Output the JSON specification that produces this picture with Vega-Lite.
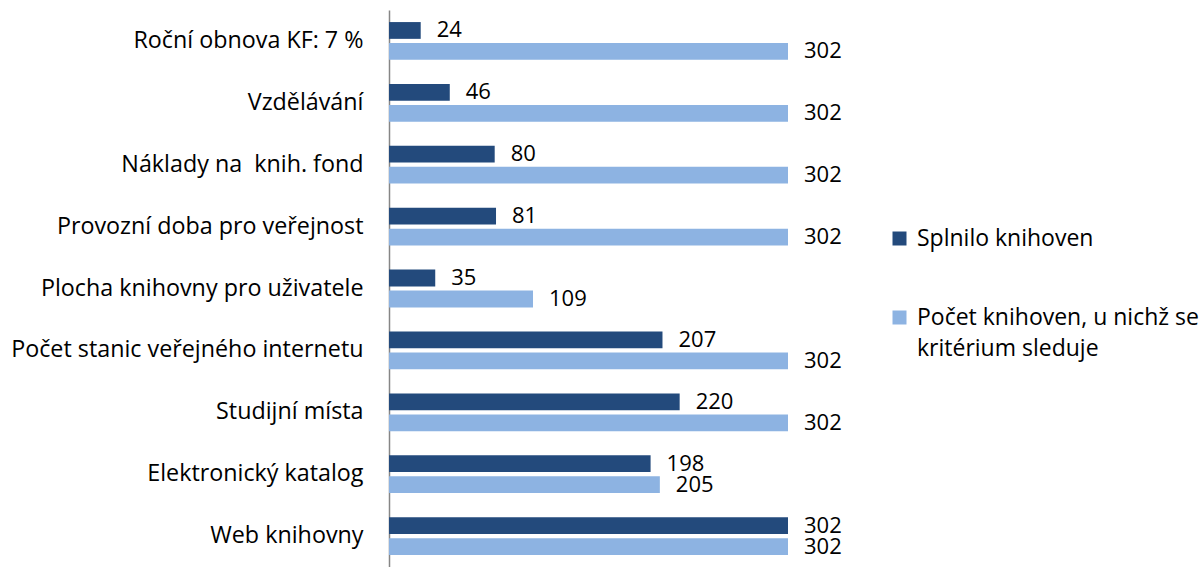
{
  "$schema": "https://vega.github.io/schema/vega-lite/v6.json",
  "width": 399,
  "height": 557,
  "autosize": {"type": "none"},
  "padding": {"left": 389, "top": 10, "right": 415, "bottom": 0},
  "background": "white",
  "config": {"view": {"stroke": null}, "font": "Open Sans", "style": {"guide-label": {"lineHeight": 31}}},
  "data": {"values": [
    {"kategorie": "Roční obnova KF: 7 %", "serie": "Splnilo knihoven", "hodnota": 24},
    {"kategorie": "Roční obnova KF: 7 %", "serie": "Počet knihoven, u nichž se kritérium sleduje", "hodnota": 302},
    {"kategorie": "Vzdělávání", "serie": "Splnilo knihoven", "hodnota": 46},
    {"kategorie": "Vzdělávání", "serie": "Počet knihoven, u nichž se kritérium sleduje", "hodnota": 302},
    {"kategorie": "Náklady na  knih. fond", "serie": "Splnilo knihoven", "hodnota": 80},
    {"kategorie": "Náklady na  knih. fond", "serie": "Počet knihoven, u nichž se kritérium sleduje", "hodnota": 302},
    {"kategorie": "Provozní doba pro veřejnost", "serie": "Splnilo knihoven", "hodnota": 81},
    {"kategorie": "Provozní doba pro veřejnost", "serie": "Počet knihoven, u nichž se kritérium sleduje", "hodnota": 302},
    {"kategorie": "Plocha knihovny pro uživatele", "serie": "Splnilo knihoven", "hodnota": 35},
    {"kategorie": "Plocha knihovny pro uživatele", "serie": "Počet knihoven, u nichž se kritérium sleduje", "hodnota": 109},
    {"kategorie": "Počet stanic veřejného internetu", "serie": "Splnilo knihoven", "hodnota": 207},
    {"kategorie": "Počet stanic veřejného internetu", "serie": "Počet knihoven, u nichž se kritérium sleduje", "hodnota": 302},
    {"kategorie": "Studijní místa", "serie": "Splnilo knihoven", "hodnota": 220},
    {"kategorie": "Studijní místa", "serie": "Počet knihoven, u nichž se kritérium sleduje", "hodnota": 302},
    {"kategorie": "Elektronický katalog", "serie": "Splnilo knihoven", "hodnota": 198},
    {"kategorie": "Elektronický katalog", "serie": "Počet knihoven, u nichž se kritérium sleduje", "hodnota": 205},
    {"kategorie": "Web knihovny", "serie": "Splnilo knihoven", "hodnota": 302},
    {"kategorie": "Web knihovny", "serie": "Počet knihoven, u nichž se kritérium sleduje", "hodnota": 302}
  ]},
  "encoding": {
    "y": {
      "field": "kategorie", "type": "nominal", "sort": null, "title": null,
      "scale": {"paddingInner": 0.39, "paddingOuter": 0.195},
      "axis": {"ticks": false, "domainColor": "#868686", "domainWidth": 1.5, "labelFontSize": 23.3, "labelColor": "#000000", "labelPadding": 26, "labelLimit": 400, "labelFont": "Open Sans",
        "labelExpr": "datum.label == 'Náklady na  knih. fond' ? 'Náklady na\u00a0 knih. fond' : datum.label"}
    },
    "yOffset": {
      "field": "serie", "type": "nominal",
      "scale": {"domain": ["Splnilo knihoven", "Počet knihoven, u nichž se kritérium sleduje"], "paddingInner": 0.2, "paddingOuter": 0}
    },
    "x": {
      "field": "hodnota", "type": "quantitative",
      "scale": {"domain": [0, 302], "nice": false, "zero": true},
      "axis": null
    }
  },
  "layer": [
    {
      "mark": {"type": "bar"},
      "encoding": {
        "color": {
          "field": "serie", "type": "nominal",
          "scale": {"domain": ["Splnilo knihoven", "Počet knihoven, u nichž se kritérium sleduje"], "range": ["#234A7C", "#8DB3E2"]},
          "legend": {
            "title": null, "orient": "none", "legendX": 499, "legendY": 217, "padding": 0,
            "symbolType": "square", "symbolSize": 196, "symbolStrokeWidth": 0,
            "labelFontSize": 23, "labelFont": "Open Sans", "labelColor": "#000000", "labelOffset": 6, "labelLimit": 400,
            "rowPadding": 55,
            "labelExpr": "datum.label == 'Počet knihoven, u nichž se kritérium sleduje' ? ['Počet knihoven, u nichž se', 'kritérium sleduje'] : datum.label"
          }
        }
      }
    },
    {
      "mark": {"type": "text", "align": "left", "baseline": "middle", "dx": 16, "fontSize": 22, "font": "Open Sans", "color": "#000000"},
      "encoding": {"text": {"field": "hodnota", "type": "quantitative"}}
    }
  ]
}
